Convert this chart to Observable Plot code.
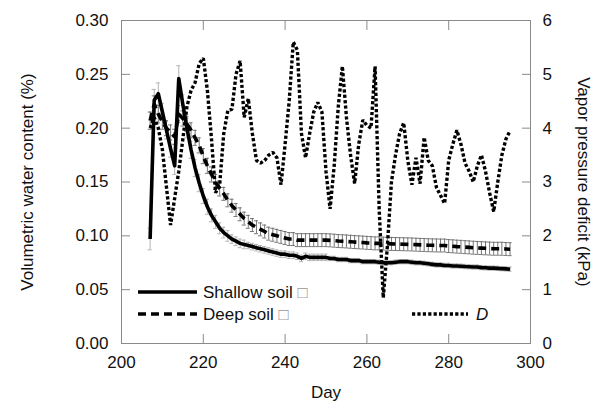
<!DOCTYPE html>
<html>
<head>
<meta charset="utf-8">
<script src="https://cdn.jsdelivr.net/npm/d3@7"></script>
<script src="https://cdn.jsdelivr.net/npm/@observablehq/plot@0.6"></script>
<style>
  html, body { margin: 0; padding: 0; background: #fff; }
</style>
</head>
<body>
<div id="chart"></div>
<script>
const days = [207,208,209,210,211,212,213,214,215,216,217,218,219,220,221,222,223,224,225,226,227,228,229,230,231,232,233,234,235,236,237,238,239,240,241,242,243,244,245,246,247,248,249,250,251,252,253,254,255,256,257,258,259,260,261,262,263,264,265,266,267,268,269,270,271,272,273,274,275,276,277,278,279,280,281,282,283,284,285,286,287,288,289,290,291,292,293,294,295];

const shallow = [0.097,0.226,0.232,0.215,0.198,0.181,0.165,0.246,0.222,0.200,0.180,0.163,0.149,0.137,0.127,0.119,0.113,0.107,0.103,0.100,0.097,0.095,0.093,0.092,0.091,0.090,0.089,0.088,0.087,0.086,0.085,0.084,0.083,0.083,0.082,0.082,0.081,0.079,0.081,0.080,0.080,0.080,0.080,0.080,0.079,0.079,0.078,0.078,0.078,0.077,0.077,0.077,0.076,0.076,0.076,0.076,0.0755,0.075,0.075,0.075,0.0755,0.076,0.076,0.076,0.0755,0.075,0.075,0.0745,0.074,0.0735,0.073,0.073,0.0725,0.0725,0.072,0.072,0.0718,0.0715,0.0713,0.071,0.071,0.0705,0.0703,0.070,0.070,0.0698,0.0695,0.0693,0.069];

const shallowErr = [0.010,0.010,0.010,0.008,0.008,0.008,0.008,0.012,0.009,0.009,0.008,0.008,0.008,0.007,0.007,0.006,0.006,0.005,0.005,0.005,0.004,0.004,0.004,0.004,0.003,0.003,0.003,0.003,0.003,0.003,0.003,0.003,0.003,0.003,0.003,0.003,0.003,0.003,0.003,0.003,0.003,0.003,0.003,0.003,0.002,0.002,0.002,0.002,0.002,0.002,0.002,0.002,0.002,0.002,0.002,0.002,0.002,0.002,0.002,0.002,0.002,0.002,0.002,0.002,0.002,0.002,0.002,0.002,0.002,0.002,0.002,0.002,0.002,0.002,0.002,0.002,0.002,0.002,0.002,0.002,0.002,0.002,0.002,0.002,0.002,0.002,0.002,0.002,0.002];

const deep = [0.207,0.222,0.213,0.206,0.200,0.196,0.192,0.213,0.209,0.204,0.198,0.191,0.184,0.174,0.165,0.157,0.150,0.144,0.139,0.133,0.128,0.124,0.120,0.116,0.113,0.110,0.108,0.106,0.104,0.102,0.101,0.100,0.099,0.098,0.097,0.097,0.096,0.096,0.096,0.096,0.096,0.096,0.096,0.096,0.0958,0.0955,0.0952,0.095,0.0948,0.0945,0.0942,0.094,0.0938,0.0935,0.0933,0.093,0.093,0.0928,0.0926,0.0925,0.0924,0.0923,0.0922,0.0921,0.092,0.0918,0.0916,0.0915,0.0913,0.0912,0.0911,0.091,0.091,0.0905,0.0903,0.090,0.0898,0.0895,0.0893,0.089,0.0888,0.0886,0.0884,0.0882,0.088,0.088,0.088,0.0878,0.0876];

const deepErr = [0.008,0.008,0.008,0.007,0.007,0.007,0.007,0.008,0.007,0.007,0.007,0.007,0.007,0.007,0.007,0.007,0.007,0.007,0.006,0.006,0.006,0.006,0.006,0.006,0.006,0.006,0.006,0.006,0.006,0.006,0.006,0.006,0.006,0.006,0.006,0.006,0.006,0.006,0.006,0.006,0.006,0.006,0.006,0.006,0.006,0.006,0.006,0.006,0.006,0.006,0.006,0.006,0.006,0.006,0.006,0.006,0.006,0.006,0.006,0.006,0.006,0.006,0.006,0.006,0.006,0.006,0.006,0.006,0.006,0.006,0.006,0.006,0.006,0.006,0.006,0.006,0.006,0.006,0.006,0.006,0.006,0.006,0.006,0.006,0.006,0.006,0.006,0.006,0.006];

const vpd = [4.0,4.2,4.0,3.6,2.9,2.2,2.7,3.2,3.8,4.4,4.7,4.85,5.2,5.3,4.7,3.8,2.8,2.95,3.9,4.33,4.35,5.0,5.25,4.2,4.55,3.9,3.4,3.35,3.4,3.5,3.55,3.45,2.95,3.7,4.5,5.6,5.45,3.9,3.45,3.9,4.3,4.48,4.3,3.2,2.5,3.3,4.4,5.15,4.2,3.5,2.97,3.7,4.15,4.05,4.0,5.15,2.5,0.85,1.8,3.0,3.5,3.9,4.1,3.4,2.95,3.45,2.97,3.83,3.4,3.3,2.9,2.75,2.6,3.4,3.7,3.96,3.7,3.35,3.2,3.0,3.3,3.5,3.2,2.8,2.45,3.0,3.5,3.8,3.95];

const xTicks = [200,220,240,260,280,300];
const yTicksLeft = [0,0.05,0.10,0.15,0.20,0.25,0.30];
const yTicksRightLabels = [0,1,2,3,4,5,6];
const vpdMax = 6, vwcMax = 0.30;
const toLeft = v => v * vwcMax / vpdMax;

const shallowData = days.map((d, i) => ({day: d, v: shallow[i], lo: shallow[i] - shallowErr[i], hi: shallow[i] + shallowErr[i]}));
const deepData = days.map((d, i) => ({day: d, v: deep[i], lo: deep[i] - deepErr[i], hi: deep[i] + deepErr[i]}));
const vpdData = days.map((d, i) => ({day: d, v: toLeft(vpd[i])}));

const grey = "#8a8a8a";
const font = "'Liberation Sans', Arial, sans-serif";

const svg = Plot.plot({
  width: 607,
  height: 412,
  marginLeft: 121,
  marginRight: 77,
  marginTop: 20,
  marginBottom: 69,
  style: {fontFamily: font, fontSize: "17px", color: "#111", background: "#fff", overflow: "visible"},
  x: {domain: [200, 300]},
  y: {domain: [0, 0.30]},
  marks: [
    // shallow error bars
    Plot.ruleX(shallowData, {x: "day", y1: "lo", y2: "hi", stroke: "#b5b5b5", strokeWidth: 1}),
    Plot.ruleY(shallowData, {y: "hi", x1: d => d.day - 0.5, x2: d => d.day + 0.5, stroke: "#b5b5b5", strokeWidth: 1}),
    Plot.ruleY(shallowData, {y: "lo", x1: d => d.day - 0.5, x2: d => d.day + 0.5, stroke: "#b5b5b5", strokeWidth: 1}),
    // deep error bars
    Plot.ruleX(deepData, {x: "day", y1: "lo", y2: "hi", stroke: "#666", strokeWidth: 0.9}),
    Plot.ruleY(deepData, {y: "hi", x1: d => d.day - 0.5, x2: d => d.day + 0.5, stroke: "#666", strokeWidth: 0.9}),
    Plot.ruleY(deepData, {y: "lo", x1: d => d.day - 0.5, x2: d => d.day + 0.5, stroke: "#666", strokeWidth: 0.9}),
    // lines
    Plot.line(shallowData, {x: "day", y: "v", stroke: "#000", strokeWidth: 3.6, strokeLinecap: "butt"}),
    Plot.line(deepData, {x: "day", y: "v", stroke: "#000", strokeWidth: 3.6, strokeDasharray: "8,5", strokeLinecap: "butt"}),
    Plot.line(vpdData, {x: "day", y: "v", stroke: "#000", strokeWidth: 3.4, strokeDasharray: "3.2,2.2", strokeLinecap: "butt", strokeLinejoin: "miter"}),
    // frame
    Plot.frame({stroke: grey, strokeWidth: 1}),
    // inward ticks
    Plot.axisY({anchor: "left", ticks: yTicksLeft, tickSize: 9, dx: 9, fill: "none", label: null, stroke: grey}),
    Plot.axisY({anchor: "right", ticks: yTicksLeft, tickSize: 9, dx: -9, fill: "none", label: null, stroke: grey}),
    Plot.axisX({anchor: "bottom", ticks: xTicks, tickSize: 9, dy: -9, fill: "none", label: null, stroke: grey}),
    Plot.axisX({anchor: "top", ticks: xTicks, tickSize: 9, dy: 9, fill: "none", label: null, stroke: grey}),
    // tick labels
    Plot.axisY({anchor: "left", ticks: yTicksLeft, tickSize: 0, tickPadding: 13, tickFormat: d3.format(".2f"), label: null, fontSize: 17}),
    Plot.axisY({anchor: "right", ticks: yTicksLeft, tickSize: 0, tickPadding: 12, tickFormat: (v, i) => String(yTicksRightLabels[i]), label: null, fontSize: 17}),
    Plot.axisX({anchor: "bottom", ticks: xTicks, tickSize: 0, tickPadding: 12, tickFormat: d => String(d), label: null, fontSize: 17}),
    // axis titles
    Plot.text(["Volumetric water content (%)"], {frameAnchor: "left", dx: -94, rotate: -90, textAnchor: "middle", text: d => d, fontSize: 17}),
    Plot.text(["Vapor pressure deficit (kPa)"], {frameAnchor: "right", dx: 53, rotate: 90, textAnchor: "middle", text: d => d, fontSize: 17}),
    Plot.text(["Day"], {frameAnchor: "bottom", dy: 54, text: d => d, fontSize: 17})
  ]
});

// legend
const g = d3.select(svg).append("g").attr("font-family", font).attr("font-size", 17).attr("fill", "#111").attr("text-anchor", "start");
const items = [
  {x1: 138, x2: 197, y: 292, dash: null, w: 3.6, label: "Shallow soil", box: true, tx: 203, italic: false},
  {x1: 138, x2: 197, y: 314, dash: "8,5", w: 3.6, label: "Deep soil", box: true, tx: 203, italic: false},
  {x1: 412, x2: 468, y: 314, dash: "3.2,2.2", w: 3.4, label: "D", box: false, tx: 476, italic: true}
];
for (const it of items) {
  g.append("line").attr("x1", it.x1).attr("x2", it.x2).attr("y1", it.y).attr("y2", it.y)
    .attr("stroke", "#000").attr("stroke-width", it.w).attr("stroke-dasharray", it.dash);
  const t = g.append("text").attr("x", it.tx).attr("y", it.y).attr("dy", "0.35em").attr("text-anchor", "start")
    .attr("font-style", it.italic ? "italic" : null).text(it.label);
  if (it.box) t.append("tspan").attr("fill", "#999").text(" \u25A1");
}

document.getElementById("chart").appendChild(svg);
</script>
</body>
</html>
